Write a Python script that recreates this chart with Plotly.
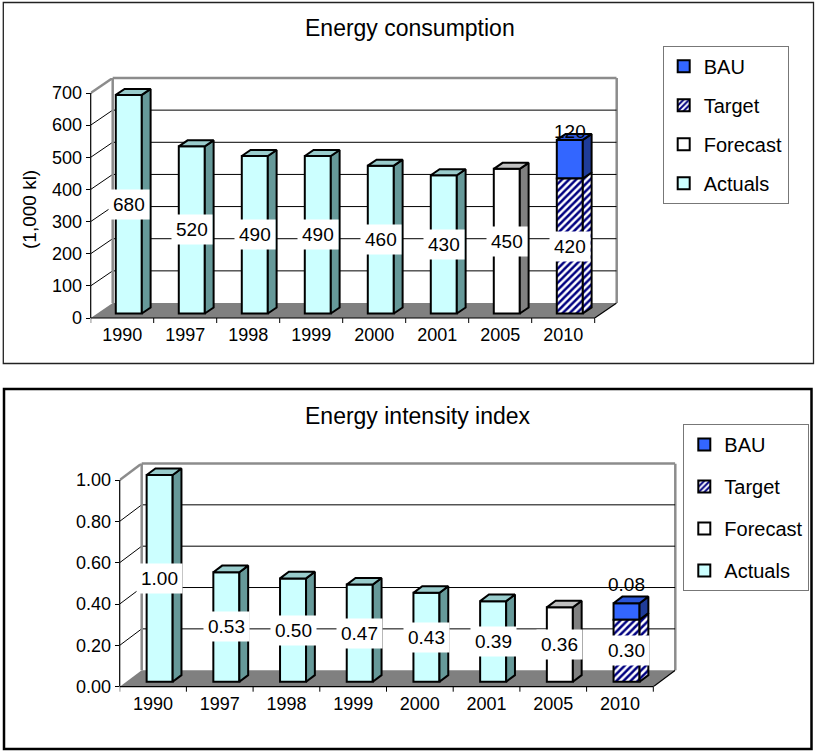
import plotly.graph_objects as go

W, H = 817, 751

# ---------------- data ----------------
years = ["1990", "1997", "1998", "1999", "2000", "2001", "2005", "2010"]

cons_actuals = [680, 520, 490, 490, 460, 430, None, None]
cons_forecast = [None, None, None, None, None, None, 450, None]
cons_target = [None, None, None, None, None, None, None, 420]
cons_bau = [None, None, None, None, None, None, None, 120]
cons_ticks = [0, 100, 200, 300, 400, 500, 600, 700]

int_actuals = [1.00, 0.53, 0.50, 0.47, 0.43, 0.39, None, None]
int_forecast = [None, None, None, None, None, None, 0.36, None]
int_target = [None, None, None, None, None, None, None, 0.30]
int_bau = [None, None, None, None, None, None, None, 0.08]
int_ticks = [0.0, 0.2, 0.4, 0.6, 0.8, 1.0]

FONT = "Liberation Sans, Arial, Helvetica, sans-serif"

STYLE = {
    "Actuals": dict(front="#CCFFFF", side="#669999", top="#99CCCC", hatch=False),
    "Forecast": dict(front="#FFFFFF", side="#808080", top="#C0C0C0", hatch=False),
    "Target": dict(front="#FFFFFF", side="#FFFFFF", top="#FFFFFF", hatch=True),
    "BAU": dict(front="#3366FF", side="#1F3C99", top="#2B56D9", hatch=False),
}
HATCH = dict(shape="/", fgcolor="#000080", bgcolor="#FFFFFF", size=5, solidity=0.5)
LEGEND_ORDER = ["BAU", "Target", "Forecast", "Actuals"]

D0, D1 = 0.3, 0.7  # bar depth position inside the floor depth

fig = go.Figure()
shapes = []
annotations = []


def build_panel(idx, series, ticks, ymax, xpx0, band_px, ypx0, ypx_top, dx_px, dy_px,
                barw, tickfmt, labfmt, legend_name, bau_shift):
    n = len(years)
    xa = "x" if idx == 1 else "x%d" % idx
    ya = "y" if idx == 1 else "y%d" % idx
    xlay = "xaxis" if idx == 1 else "xaxis%d" % idx
    ylay = "yaxis" if idx == 1 else "yaxis%d" % idx

    dxc = dx_px / band_px
    front_top_px = ypx_top + dy_px
    ppu = (ypx0 - front_top_px) / ymax
    dyv = dy_px / ppu
    xpx1 = xpx0 + (n + dxc) * band_px

    fig.layout[xlay] = dict(
        domain=[xpx0 / W, xpx1 / W], range=[-0.5, n - 0.5 + dxc], anchor=ya,
        tickmode="array", tickvals=list(range(n)), ticktext=years,
        showgrid=False, zeroline=False, showline=False, ticks="", automargin=False,
        ticklabelstandoff=4,
        tickfont=dict(family=FONT, size=18, color="black"), fixedrange=True)
    fig.layout[ylay] = dict(
        domain=[1 - ypx0 / H, 1 - ypx_top / H], range=[0, ymax + dyv], anchor=xa,
        tickmode="array", tickvals=ticks, ticktext=[tickfmt(t) for t in ticks],
        showgrid=False, zeroline=False, showline=False, ticks="outside", ticklen=4,
        tickcolor="black", tickwidth=1, automargin=False,
        tickfont=dict(family=FONT, size=18, color="black"), fixedrange=True)

    bx0, bx1 = -0.5 + dxc, n - 0.5 + dxc
    # floor
    shapes.append(dict(type="path", xref=xa, yref=ya, layer="below",
                       path="M %f,0 L %f,0 L %f,%f L %f,%f Z" % (-0.5, n - 0.5, bx1, dyv, bx0, dyv),
                       fillcolor="#808080", line=dict(width=0)))
    # back wall gridlines + left wall diagonals
    for v in ticks[1:-1]:
        shapes.append(dict(type="line", xref=xa, yref=ya, layer="below",
                           x0=bx0, x1=bx1, y0=v + dyv, y1=v + dyv, line=dict(color="black", width=1)))
        shapes.append(dict(type="line", xref=xa, yref=ya, layer="below",
                           x0=-0.5, x1=bx0, y0=v, y1=v + dyv, line=dict(color="black", width=1)))
    gray = dict(color="#8C8C8C", width=2.5)
    shapes.append(dict(type="line", xref=xa, yref=ya, layer="below",
                       x0=bx0, x1=bx0, y0=dyv, y1=ymax + dyv, line=gray))
    shapes.append(dict(type="line", xref=xa, yref=ya + " domain", layer="below",
                       x0=bx0, x1=bx1, y0=1, y1=1, line=gray))
    shapes.append(dict(type="line", xref=xa + " domain", yref=ya, layer="below",
                       x0=1, x1=1, y0=dyv, y1=ymax + dyv, line=gray))
    shapes.append(dict(type="line", xref=xa, yref=ya, layer="below",
                       x0=-0.5, x1=bx0, y0=ymax, y1=ymax + dyv, line=gray))
    # front axes
    shapes.append(dict(type="line", xref=xa + " domain", yref=ya, layer="above",
                       x0=0, x1=0, y0=0, y1=ymax, line=dict(color="black", width=1.2)))
    shapes.append(dict(type="line", xref=xa, yref=ya + " domain", layer="above",
                       x0=-0.5, x1=n - 0.5, y0=0, y1=0, line=dict(color="black", width=1.2)))
    shapes.append(dict(type="line", xref=xa, yref=ya, layer="below",
                       x0=n - 0.5, x1=bx1, y0=0, y1=dyv, line=dict(color="black", width=1.2)))
    dom_h = ypx0 - ypx_top
    for k in range(n + 1):
        shapes.append(dict(type="line", xref=xa, yref=ya + " domain", layer="above",
                           x0=k - 0.5, x1=k - 0.5, y0=0, y1=-5 / dom_h,
                           line=dict(color="black", width=1)))

    # stacked segments (stacking order = series order)
    ddx = (D1 - D0) * dxc
    ddy = (D1 - D0) * dyv
    base0 = D0 * dyv
    xoff = D0 * dxc
    stack = [0.0] * n
    seg_info = []
    for name, vals in series:
        for i, v in enumerate(vals):
            if v is None:
                continue
            seg_info.append((name, i, base0 + stack[i], v))
            stack[i] += v

    # front faces as bar traces (added in legend order)
    for name in LEGEND_ORDER:
        segs = [s for s in seg_info if s[0] == name]
        st = STYLE[name]
        marker = dict(color=st["front"], line=dict(color="black", width=2))
        if st["hatch"]:
            marker["pattern"] = HATCH
        fig.add_trace(go.Bar(x=[s[1] + xoff for s in segs], y=[s[3] for s in segs],
                             base=[s[2] for s in segs], width=barw, name=name, marker=marker,
                             xaxis=xa, yaxis=ya, legend=legend_name,
                             legendgroup=name + legend_name, hoverinfo="skip"))
    # side & top faces
    for name, i, b, v in seg_info:
        st = STYLE[name]
        xl = i + xoff - barw / 2
        xr = i + xoff + barw / 2
        y0, y1 = b, b + v
        side_x = [xr, xr + ddx, xr + ddx, xr, xr]
        side_y = [y0, y0 + ddy, y1 + ddy, y1, y0]
        kw = dict(mode="lines", fill="toself", line=dict(color="black", width=2),
                  showlegend=False, hoverinfo="skip", xaxis=xa, yaxis=ya)
        if st["hatch"]:
            fig.add_trace(go.Scatter(x=side_x, y=side_y, fillcolor="#FFFFFF", fillpattern=HATCH, **kw))
        else:
            fig.add_trace(go.Scatter(x=side_x, y=side_y, fillcolor=st["side"], **kw))
        if abs(y1 - (base0 + stack[i])) < 1e-9:
            top_x = [xl, xr, xr + ddx, xl + ddx, xl]
            top_y = [y1, y1, y1 + ddy, y1 + ddy, y1]
            fig.add_trace(go.Scatter(x=top_x, y=top_y, fillcolor=st["top"], **kw))
    # value labels
    for name, i, b, v in seg_info:
        if name == "BAU":
            annotations.append(dict(xref=xa, yref=ya, x=i + xoff, y=b + v, yshift=bau_shift,
                                    xanchor="center", yanchor="middle",
                                    text=labfmt(v), showarrow=False,
                                    font=dict(family=FONT, size=19, color="black")))
        else:
            annotations.append(dict(xref=xa, yref=ya, x=i + xoff, y=b + v / 2,
                                    xanchor="center", yanchor="middle",
                                    text=labfmt(v), showarrow=False, bgcolor="white", borderpad=4,
                                    font=dict(family=FONT, size=19, color="black")))


build_panel(1, [("Actuals", cons_actuals), ("Forecast", cons_forecast),
                ("Target", cons_target), ("BAU", cons_bau)],
            cons_ticks, 700, 90.7, 63.0, 318.0, 78.0, 22.0, 15.0, 0.413,
            lambda t: "%d" % t, lambda v: "%d" % v, "legend", 8)
build_panel(2, [("Actuals", int_actuals), ("Forecast", int_forecast),
                ("Target", int_target), ("BAU", int_bau)],
            int_ticks, 1.0, 119.7, 66.7, 686.7, 463.5, 22.0, 16.5, 0.39,
            lambda t: "%.2f" % t, lambda v: "%.2f" % v, "legend2", 19)

# panel frames
shapes.append(dict(type="rect", xref="paper", yref="paper", x0=3.3 / W, x1=813.5 / W,
                   y0=1 - 363.5 / H, y1=1 - 2.5 / H, line=dict(color="#222222", width=1.3)))
shapes.append(dict(type="rect", xref="paper", yref="paper", x0=4 / W, x1=811.5 / W,
                   y0=1 - 749 / H, y1=1 - 389 / H, line=dict(color="black", width=2.5)))

# titles
annotations.append(dict(xref="paper", yref="paper", x=410 / W, y=1 - 28 / H, text="Energy consumption",
                        xanchor="center", yanchor="middle",
                        showarrow=False, font=dict(family=FONT, size=23, color="black")))
annotations.append(dict(xref="paper", yref="paper", x=418 / W, y=1 - 416 / H, text="Energy intensity index",
                        xanchor="center", yanchor="middle",
                        showarrow=False, font=dict(family=FONT, size=23, color="black")))
annotations.append(dict(xref="paper", yref="paper", x=29 / W, y=1 - 210 / H, text="(1,000 kl)",
                        xanchor="center", yanchor="middle",
                        showarrow=False, textangle=-90, font=dict(family=FONT, size=19, color="black")))

legend_common = dict(xanchor="left", yanchor="top", bgcolor="white", bordercolor="#777777",
                     borderwidth=1, font=dict(family=FONT, size=20, color="black"),
                     traceorder="grouped", itemwidth=30, itemclick=False, itemdoubleclick=False)

fig.update_layout(
    template="none", autosize=False,
    width=W, height=H, margin=dict(l=0, r=0, t=0, b=0, pad=0, autoexpand=False),
    paper_bgcolor="white", plot_bgcolor="white",
    barmode="overlay", showlegend=True,
    legend=dict(x=662.7 / W, y=1 - 45.7 / H, tracegroupgap=10, **legend_common),
    legend2=dict(x=683.3 / W, y=1 - 424 / H, tracegroupgap=13, **legend_common),
    shapes=shapes, annotations=annotations,
    font=dict(family=FONT),
)

fig.write_html("out.html")
